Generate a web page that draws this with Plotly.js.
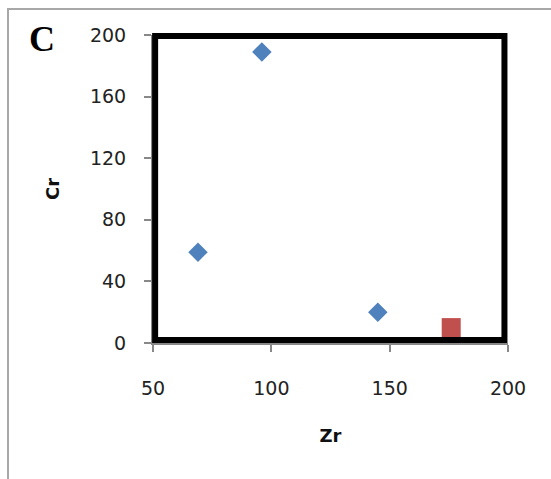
<!DOCTYPE html>
<html><head><meta charset="utf-8">
<script src="https://cdn.plot.ly/plotly-3.0.1.min.js"></script>
<style>html,body{margin:0;padding:0;background:#fff;}#chart{width:551px;height:479px;}</style>
</head><body><div id="chart"></div>
<script>
const zrA = [69, 96, 145];
const crA = [59, 189, 20];
const zrB = [176];
const crB = [10];
const xTicks = [50, 100, 150, 200];
const yTicks = [0, 40, 80, 120, 160, 200];

const W = 551, H = 479;
const L = 153, R = 43, T = 35, B = 136;
const pw = W - L - R, ph = H - T - B;
function px(x){ return (x - L) / pw; }
function py(y){ return 1 - (y - T) / ph; }

const data = [
  {x: zrA, y: crA, type: 'scatter', mode: 'markers',
   marker: {symbol: 'diamond', size: 15, color: '#4F81BD'}, cliponaxis: false},
  {x: zrB, y: crB, type: 'scatter', mode: 'markers',
   marker: {symbol: 'square', size: 19, color: '#C0504D', line:{width:0}}, cliponaxis: false}
];
const fnt = {family: 'DejaVu Sans', size: 19, color: '#222'};
const layout = {
  width: W, height: H,
  margin: {l: L, r: R, t: T, b: B, pad: 0},
  paper_bgcolor: '#fff', plot_bgcolor: '#fff',
  showlegend: false,
  xaxis: {range: [50, 200], tickvals: xTicks, ticktext: xTicks.map(String),
    showgrid: false, zeroline: false, showline: true, linecolor: '#888', linewidth: 2,
    ticks: 'outside', ticklen: 7, tickcolor: '#888', tickwidth: 2,
    ticklabelstandoff: 20, tickfont: fnt,
    title: {text: '<b>Zr</b>', font: {family: 'DejaVu Sans', size: 18, color: '#111'}, standoff: 32}},
  yaxis: {range: [0, 200], tickvals: yTicks, ticktext: yTicks.map(String),
    showgrid: false, zeroline: false, showline: true, linecolor: '#888', linewidth: 2,
    ticks: 'outside', ticklen: 7, tickcolor: '#888', tickwidth: 2,
    ticklabelstandoff: 14, tickfont: fnt,
    title: {text: '<b>Cr</b>', font: {family: 'DejaVu Sans', size: 18, color: '#111'}, standoff: 26}},
  shapes: [
    {type: 'rect', xref: 'paper', yref: 'paper', x0: 0.006, x1: 0.99, y0: 0.01, y1: 0.997,
     line: {color: '#000', width: 6}, fillcolor: 'rgba(0,0,0,0)', layer: 'above'},
    {type: 'rect', xref: 'paper', yref: 'paper', x0: px(8), x1: px(620), y0: py(600), y1: py(9),
     line: {color: '#a8a8a8', width: 2}, fillcolor: 'rgba(0,0,0,0)', layer: 'below'}
  ],
  annotations: [
    {text: '<b>C</b>', xref: 'paper', yref: 'paper', x: px(42), y: py(39),
     showarrow: false, xanchor: 'center', yanchor: 'middle',
     font: {family: 'Liberation Serif', size: 36, color: '#000'}}
  ]
};
Plotly.newPlot('chart', data, layout, {displayModeBar: false, staticPlot: true});
</script></body></html>
